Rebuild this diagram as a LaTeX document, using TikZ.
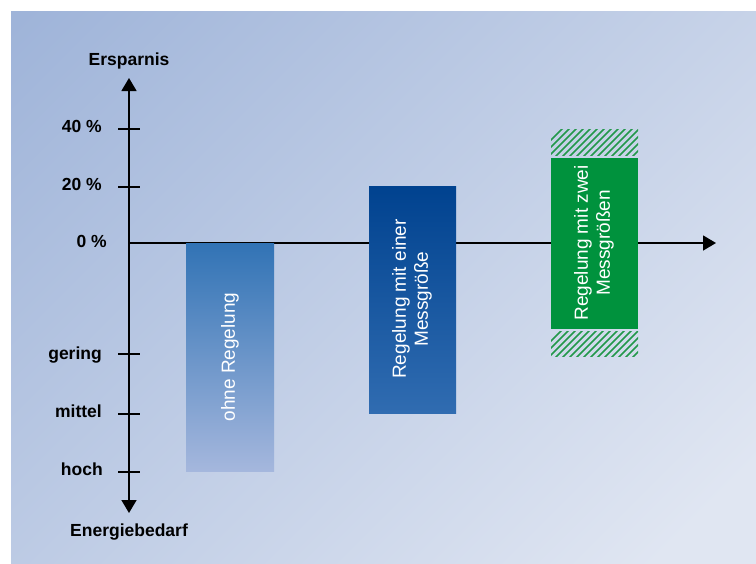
\documentclass[tikz,border=0pt]{standalone}
\usepackage{fontspec}
\setmainfont{Liberation Sans}
\usetikzlibrary{arrows.meta}
\definecolor{bgA}{HTML}{9FB4D9}
\definecolor{bgM}{HTML}{CAD4EA}
\definecolor{bgB}{HTML}{E0E6F2}
\definecolor{baraT}{HTML}{3173B5}
\definecolor{baraB}{HTML}{A5B7DD}
\definecolor{barbT}{HTML}{00428F}
\definecolor{barbB}{HTML}{306CB1}
\definecolor{barg}{HTML}{00923D}
\definecolor{hatchg}{HTML}{22984A}
\tikzset{
  axis/.style={line width=1.5pt, black},
  tip/.style={-{Triangle[length=13pt,width=15pt]}},
  tick/.style={line width=1.2pt, black},
  lab/.style={font=\fontsize{17.5}{20}\selectfont\bfseries, inner sep=0pt, anchor=base east},
  title/.style={font=\fontsize{17.5}{20}\selectfont\bfseries, inner sep=0pt, anchor=base},
  bartext/.style={font=\fontsize{19}{22}\selectfont, text=white, rotate=90, align=center, inner sep=0pt},
  hatch/.style={hatchg, line width=1.6pt},
}
\begin{document}
\begin{tikzpicture}[x=1pt,y=-1pt]
\useasboundingbox (0,0) rectangle (756,563);
% background
\begin{scope}
\clip (11,11) rectangle (756,563);
\shade[top color=bgA, middle color=bgM, bottom color=bgB, shading angle=45] (-36,-176) rectangle (804,664);
\end{scope}
% axes
\coordinate (O) at (129,243);
\coordinate (Top) at (129,78);
\coordinate (Bot) at (129,513);
\coordinate (Right) at (716,243);
\draw[axis,tip] (O) -- (Top);
\draw[axis,tip] (O) -- (Bot);
\draw[axis,tip] (O) -- (Right);
% ticks
\foreach \y in {129,187,354,414,472} \draw[tick] (118,\y) -- (140,\y);
% labels
\node[title] (ers) at (129,65) {Ersparnis};
\node[title] (ene) at (129,536) {Energiebedarf};
\node[lab] (l40) at (102,132) {40 \%};
\node[lab] (l20) at (102,190) {20 \%};
\node[lab] (l0) at (107,247) {0 \%};
\node[lab] (lg) at (102,359) {gering};
\node[lab] (lm) at (102,417) {mittel};
\node[lab] (lh) at (103,475) {hoch};
% bar 1
\shade[top color=baraT, bottom color=baraB] (186,243) rectangle (274,471);
\node[bartext] (t1) at (230,357) {ohne Regelung};
% bar 2
\shade[top color=barbT, bottom color=barbB] (369,186) rectangle (456,413);
\node[bartext] (t2) at (412,299) {Regelung mit einer\\Messgröße};
% bar 3 hatches
\begin{scope}
\clip (551,129) rectangle (638,155);
\foreach \i in {0,...,17} \draw[hatch] (531+7*\i,160) -- ++(36,-36);
\end{scope}
\begin{scope}
\clip (551,331) rectangle (638,356);
\foreach \i in {0,...,17} \draw[hatch] (531+7*\i,361) -- ++(36,-36);
\end{scope}
\fill[barg] (551,158) rectangle (638,329);
\node[bartext] (t3) at (594,243) {Regelung mit zwei\\Messgrößen};
\end{tikzpicture}
\end{document}
